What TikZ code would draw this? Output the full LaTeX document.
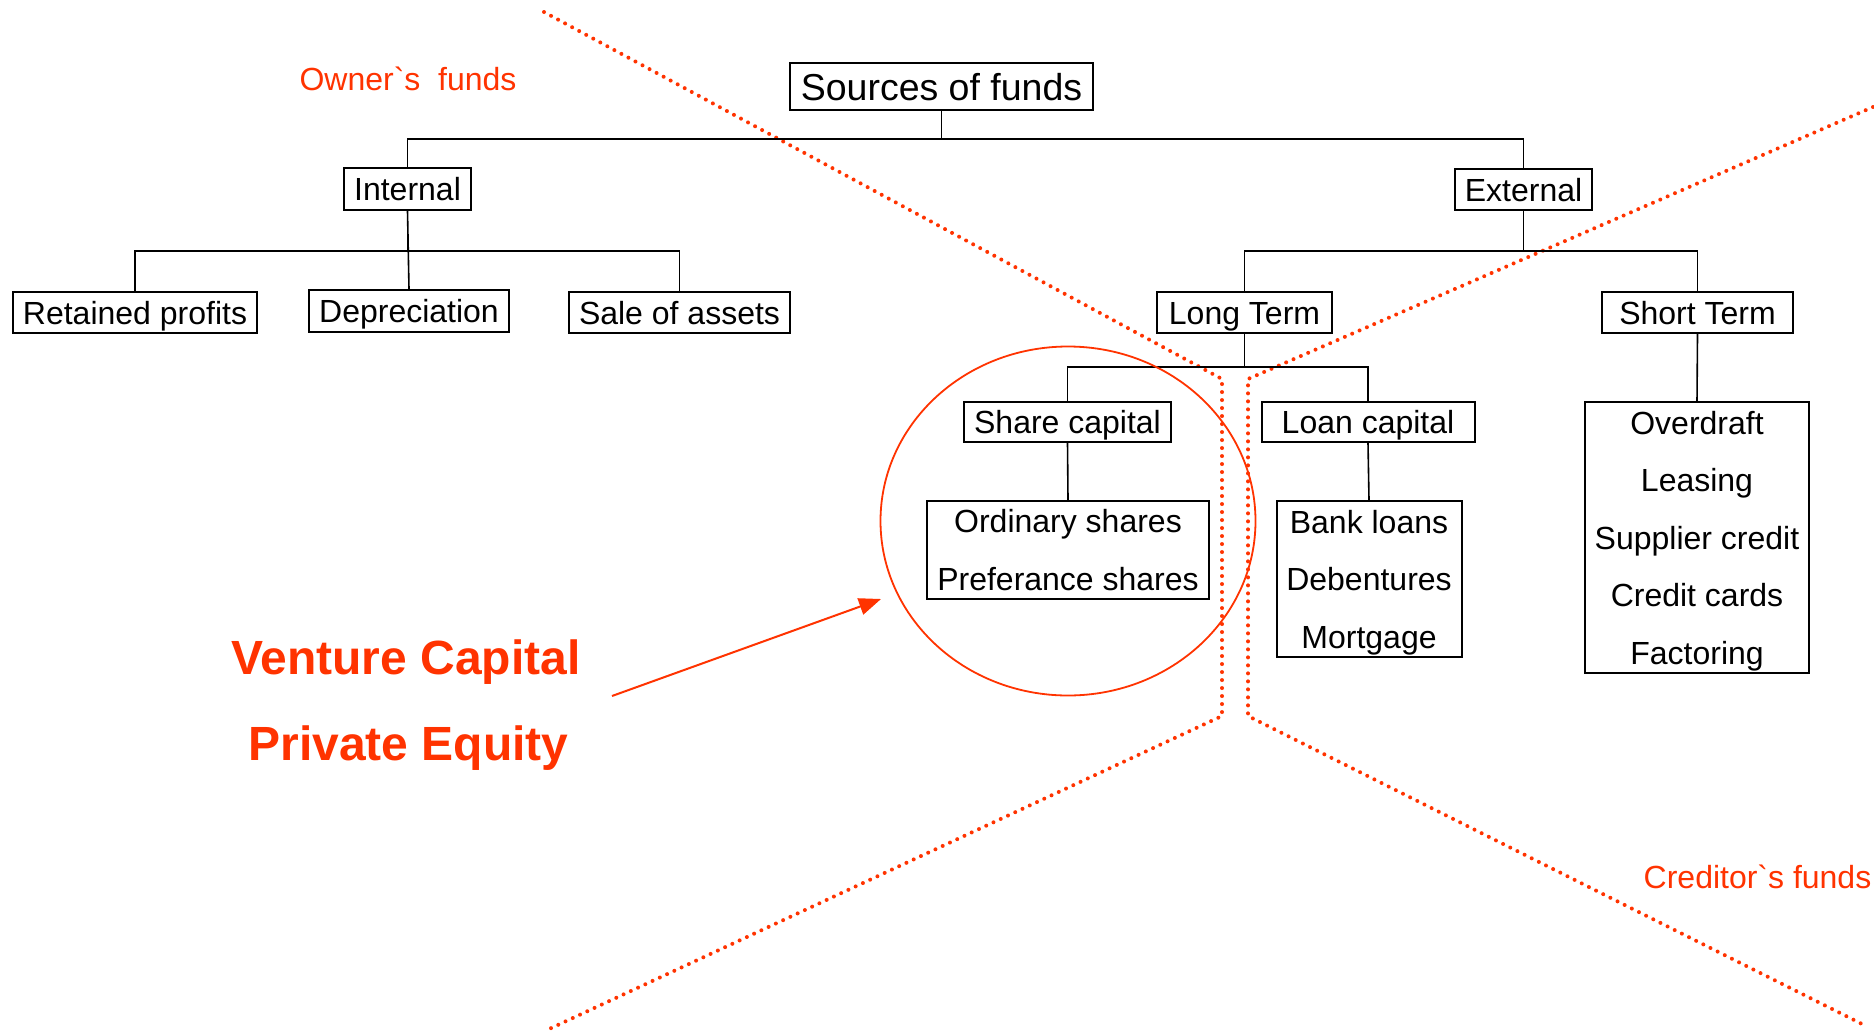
\documentclass[tikz,border=0pt]{standalone}
\usepackage{fontspec}
\setmainfont{Liberation Sans}
\font\rawlabel="Liberation Sans" at 32pt
\usetikzlibrary{arrows.meta,shapes.geometric}
\definecolor{accent}{RGB}{255,51,0}
\tikzset{
  box/.style={draw=black, line width=2pt, inner sep=0pt, align=center,
    font=\fontsize{32}{57.5}\selectfont},
  single/.style={text height=23pt, text depth=0pt},
  multi/.style={text depth=0pt},
  conn/.style={draw=black, line width=1.6pt},
  boundary/.style={draw=accent, line width=4pt, line cap=round, dash pattern=on 0pt off 8pt},
  redlabel/.style={text=accent, inner sep=0pt, anchor=base, font=\rawlabel},
  biglabel/.style={text=accent, inner sep=0pt, anchor=base, font=\fontsize{48}{56}\selectfont\bfseries},
}
\begin{document}
\begin{tikzpicture}[x=1pt,y=-1pt]
\useasboundingbox (0,0) rectangle (1874,1031);
\fill[white] (0,0) rectangle (1874,1031);

% boundary dotted lines
\coordinate (l1) at (544,12);
\coordinate (l2) at (1222,379);
\coordinate (l3) at (1222,716);
\coordinate (l4) at (547,1030);
\coordinate (r1) at (1873,107);
\coordinate (r2) at (1248,379);
\coordinate (r3) at (1248,716);
\coordinate (r4) at (1864,1025);
\draw[boundary] (l1) -- (l2) -- (l3) -- (l4);
\draw[boundary] (r1) -- (r2) -- (r3) -- (r4);

% boxes
\node[box, minimum width=303pt, minimum height=47pt, font=\fontsize{37.5}{45}\selectfont, text height=27pt, text depth=0pt] (src) at (941.5,86.5) {Sources of funds};
\node[box, single, minimum width=127pt, minimum height=42pt] (int) at (407.5,189) {Internal};
\node[box, single, minimum width=137pt, minimum height=41pt] (ext) at (1523.5,189.5) {External};
\node[box, single, minimum width=244pt, minimum height=41pt] (ret) at (135,312.5) {Retained profits};
\node[box, single, minimum width=200pt, minimum height=42pt] (dep) at (409,311) {Depreciation};
\node[box, single, minimum width=221pt, minimum height=41pt] (sale) at (679.5,312.5) {Sale of assets};
\node[box, single, minimum width=175pt, minimum height=41pt] (long) at (1244.5,312.5) {Long Term};
\node[box, single, minimum width=191pt, minimum height=41pt] (short) at (1697.5,312.5) {Short Term};
\node[box, single, minimum width=207pt, minimum height=40pt] (share) at (1067.5,422) {Share capital};
\node[box, single, minimum width=213pt, minimum height=40pt] (loan) at (1368,422) {Loan capital};
\node[box, multi, minimum width=282pt, minimum height=98pt] (shares) at (1068,550) {Ordinary shares\\Preferance shares};
\node[box, multi, minimum width=185pt, minimum height=156pt] (loans) at (1369,579) {Bank loans\\Debentures\\Mortgage};
\node[box, multi, minimum width=224pt, minimum height=271pt] (stlist) at (1697,537.5) {Overdraft\\Leasing\\Supplier credit\\Credit cards\\Factoring};

% connectors
\draw[conn] (src.south) -- (src.south |- 0,139) -| (int.north);
\draw[conn] (src.south) -- (src.south |- 0,139) -| (ext.north);
\draw[conn] (int.south) -- (int.south |- 0,251) -| (ret.north);
\draw[conn] (int.south) -- (dep.north);
\draw[conn] (int.south) -- (int.south |- 0,251) -| (sale.north);
\draw[conn] (ext.south) -- (ext.south |- 0,251) -| (long.north);
\draw[conn] (ext.south) -- (ext.south |- 0,251) -| (short.north);
\draw[conn] (long.south) -- (long.south |- 0,367) -| (share.north);
\draw[conn] (long.south) -- (long.south |- 0,367) -| (loan.north);
\draw[conn] (share.south) -- (shares.north);
\draw[conn] (loan.south) -- (loans.north);
\draw[conn] (short.south) -- (stlist.north);

% ellipse highlight
\node[draw=accent, line width=1.8pt, ellipse, minimum width=375pt, minimum height=349pt, inner sep=0pt] (circ) at (1068,521) {};

% labels
\node[redlabel] (owner) at (408,90) {Owner`s\ \ funds};
\node[redlabel] (creditor) at (1757.5,888) {Creditor`s funds};
\node[biglabel] (vc) at (406,674) {Venture Capital};
\node[biglabel] (pe) at (408.5,760) {Private Equity};

% arrow
\coordinate (as) at (612,696);
\coordinate (at) at (881,599);
\draw[accent, line width=2pt, -{Triangle[length=22pt,width=17pt]}] (as) -- (at);
\end{tikzpicture}
\end{document}
